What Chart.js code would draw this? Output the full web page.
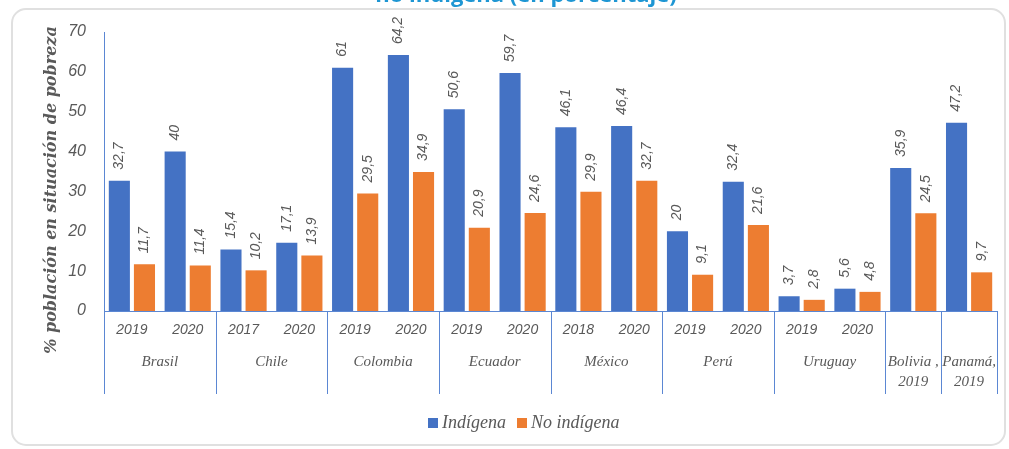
<!DOCTYPE html>
<html>
<head>
<meta charset="utf-8">
<script src="https://cdn.jsdelivr.net/npm/chart.js@4.4.1/dist/chart.umd.min.js"></script>
<style>
  html, body { margin: 0; padding: 0; background: #ffffff; }
  #wrap { position: relative; width: 1009px; height: 449px; overflow: hidden; }
  canvas { display: block; }
</style>
</head>
<body>
<div id="wrap"><canvas id="c" width="1009" height="449"></canvas></div>
<script>
// ---- Data ----
const years = ['2019','2020','2017','2020','2019','2020','2019','2020','2018','2020','2019','2020','2019','2020','',''];
const countries = ['Brasil','Chile','Colombia','Ecuador','México','Perú','Uruguay','Bolivia ,\n2019','Panamá,\n2019'];
const countrySpans = [2,2,2,2,2,2,2,1,1];
const indigena = [32.7, 40, 15.4, 17.1, 61, 64.2, 50.6, 59.7, 46.1, 46.4, 20, 32.4, 3.7, 5.6, 35.9, 47.2];
const noIndigena = [11.7, 11.4, 10.2, 13.9, 29.5, 34.9, 20.9, 24.6, 29.9, 32.7, 9.1, 21.6, 2.8, 4.8, 24.5, 9.7];
const yTicks = [0, 10, 20, 30, 40, 50, 60, 70];
const seriesNames = ['Indígena', 'No indígena'];
const titleText = 'no indígena (en porcentaje)';
const yTitle = '% población en situación de pobreza';

const BLUE = '#4472C4', ORANGE = '#ED7D31', GRAY = '#595959', AXIS = '#5B87D3';

const extras = {
  id: 'extras',
  beforeDraw(chart) {
    const ctx = chart.ctx;
    ctx.save();
    // frame
    ctx.strokeStyle = '#e0e0e0';
    ctx.lineWidth = 2;
    ctx.beginPath();
    ctx.roundRect(12, 9, 993, 436, 14);
    ctx.stroke();
    // title (cut off at top)
    ctx.fillStyle = '#1E96D3';
    ctx.font = 'bold 22px "Open Sans", sans-serif';
    ctx.textAlign = 'center';
    ctx.textBaseline = 'alphabetic';
    ctx.fillText(titleText, 526, 2);
    ctx.restore();
  },
  afterDatasetsDraw(chart) {
    const ctx = chart.ctx;
    ctx.save();
    ctx.fillStyle = GRAY;
    ctx.font = 'italic 14px "Liberation Sans", sans-serif';
    ctx.textAlign = 'left';
    ctx.textBaseline = 'middle';
    chart.data.datasets.forEach((ds, di) => {
      const meta = chart.getDatasetMeta(di);
      meta.data.forEach((el, i) => {
        const v = ds.data[i];
        ctx.save();
        ctx.translate(el.x, el.y - 11);
        ctx.rotate(-Math.PI / 2);
        ctx.fillText(String(v).replace('.', ','), 0, 0);
        ctx.restore();
      });
    });
    ctx.restore();
  },
  afterDraw(chart) {
    const ctx = chart.ctx;
    const xs = chart.scales.x;
    const area = chart.chartArea;
    const slot = xs.getPixelForValue(1) - xs.getPixelForValue(0);
    ctx.save();
    // separators and country labels
    ctx.strokeStyle = AXIS;
    ctx.lineWidth = 1;
    let idx = 0;
    const sepBottom = 394;
    const drawSep = (x) => {
      ctx.beginPath();
      ctx.moveTo(Math.round(x) + 0.5, area.bottom);
      ctx.lineTo(Math.round(x) + 0.5, sepBottom);
      ctx.stroke();
    };
    drawSep(xs.getPixelForValue(0) - slot / 2);
    ctx.fillStyle = GRAY;
    ctx.font = 'italic 15px "Liberation Serif", serif';
    ctx.textAlign = 'center';
    ctx.textBaseline = 'middle';
    countries.forEach((name, k) => {
      const span = countrySpans[k];
      const left = xs.getPixelForValue(idx) - slot / 2;
      const right = xs.getPixelForValue(idx + span - 1) + slot / 2;
      drawSep(right);
      const lines = name.split('\n');
      lines.forEach((ln, j) => {
        ctx.fillText(ln, (left + right) / 2, 362 + j * 20);
      });
      idx += span;
    });
    // y axis title
    ctx.save();
    ctx.translate(52, 190);
    ctx.rotate(-Math.PI / 2);
    ctx.font = 'bold italic 16px "DejaVu Serif", serif';
    ctx.fillText(yTitle, 0, 0);
    ctx.restore();
    // legend
    ctx.font = 'italic 18px "Liberation Serif", serif';
    ctx.textAlign = 'left';
    ctx.fillStyle = BLUE;
    ctx.fillRect(428, 418, 10, 10);
    ctx.fillStyle = GRAY;
    ctx.fillText(seriesNames[0], 442, 423);
    ctx.fillStyle = ORANGE;
    ctx.fillRect(517, 418, 10, 10);
    ctx.fillStyle = GRAY;
    ctx.fillText(seriesNames[1], 531, 423);
    ctx.restore();
  }
};

new Chart(document.getElementById('c'), {
  type: 'bar',
  data: {
    labels: years,
    datasets: [
      { label: seriesNames[0], data: indigena, backgroundColor: BLUE, borderWidth: 0 },
      { label: seriesNames[1], data: noIndigena, backgroundColor: ORANGE, borderWidth: 0 }
    ]
  },
  options: {
    responsive: false,
    animation: false,
    devicePixelRatio: 1,
    layout: { padding: { left: 0, right: 12, top: 32, bottom: 0 } },
    datasets: { bar: { categoryPercentage: 0.9, barPercentage: 0.84 } },
    plugins: { legend: { display: false }, tooltip: { enabled: false }, title: { display: false } },
    scales: {
      x: {
        grid: { display: false, drawTicks: false },
        border: { display: true, color: AXIS, width: 1 },
        ticks: {
          color: GRAY,
          font: { family: '"Liberation Sans", sans-serif', size: 14, style: 'italic' },
          padding: 11, maxRotation: 0, autoSkip: false
        },
        afterFit(scale) { scale.height = 138; }
      },
      y: {
        min: 0, max: 70,
        afterBuildTicks(scale) { scale.ticks = yTicks.map(v => ({ value: v })); },
        grid: { display: false, drawTicks: false },
        border: { display: true, color: AXIS, width: 1 },
        ticks: {
          color: GRAY,
          font: { family: '"Liberation Sans", sans-serif', size: 16, style: 'italic' },
          padding: 18
        },
        afterFit(scale) { scale.width = 104; }
      }
    }
  },
  plugins: [extras]
});
</script>
</body>
</html>
